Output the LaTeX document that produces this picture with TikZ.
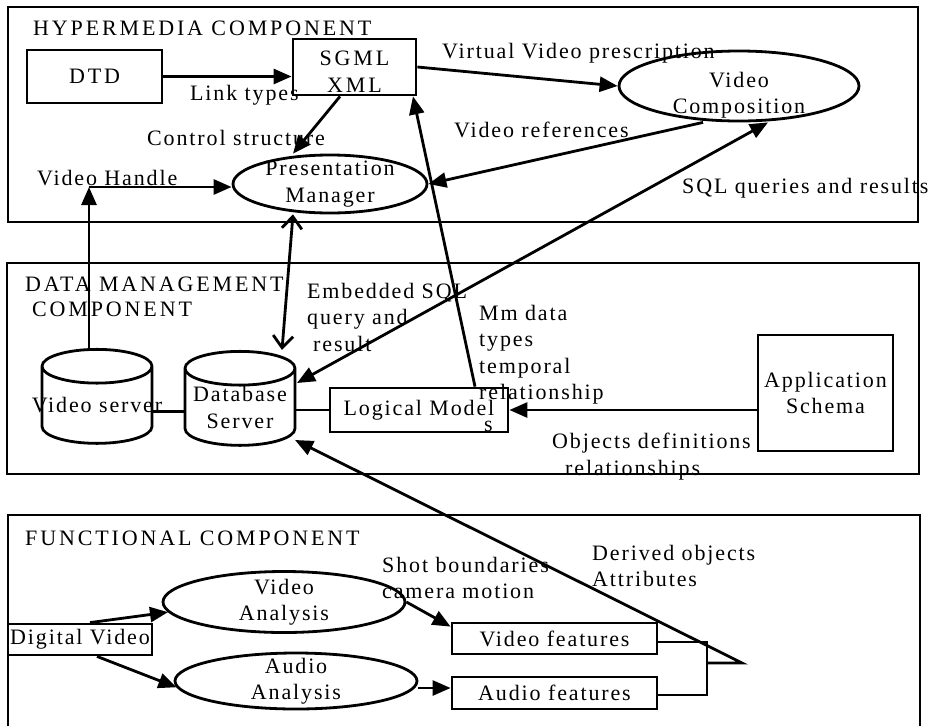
\documentclass[tikz,border=0pt]{standalone}
\usepackage{fontspec}
\setmainfont{Liberation Serif}[LetterSpace=8.5]
\newfontfamily\capsfont{Liberation Serif}[LetterSpace=13]
\usetikzlibrary{shapes.geometric,arrows.meta}
\begin{document}
\begin{tikzpicture}[x=1pt,y=-1pt,
  every node/.style={font=\fontsize{22}{26.5}\selectfont, inner sep=0pt},
  ln/.style={line width=2.8pt},
  arr/.style={ln,-{Triangle[length=18pt,width=15pt]}},
  darr/.style={ln,{Triangle[length=18pt,width=15pt]}-{Triangle[length=18pt,width=15pt]}},
  barb/.style={ln,{Straight Barb[length=12pt,width=20pt]}-{Straight Barb[length=12pt,width=20pt]}},
  comp/.style={line width=2.4pt},
  box/.style={draw, ln, rectangle, align=center},
  oval/.style={draw, ln, ellipse, align=center},
  drum/.style={draw, ln, cylinder, shape border rotate=90, aspect=0.36, align=center},
  capsf/.style={font=\capsfont\fontsize{22}{27}\selectfont},
  lbl/.style={anchor=base west},
  mlbl/.style={anchor=north west, align=left},
  title/.style={anchor=base west, font=\capsfont\fontsize{22}{25}\selectfont},
]
\fill[white] (0,0) rectangle (947,726);
\useasboundingbox (0,0) rectangle (947,726);

% component frames
\draw[comp] (8,7) rectangle (918,222);
\draw[comp] (7,263) rectangle (919,474);
\draw[comp] (8,726) -- (8,515) -- (920,515) -- (920,726);

\node[title] (hyptitle) at (33,35) {HYPERMEDIA COMPONENT};
\node[title, anchor=north west, align=left] (dmtitle) at (25,277) {DATA MANAGEMENT\\\hspace{7pt}COMPONENT};
\node[title] (fctitle) at (25,545) {FUNCTIONAL COMPONENT};

% hypermedia nodes
\node[box, capsf, minimum width=135pt, minimum height=53pt] (dtd) at (94.5,76.5) {DTD};
\node[box, minimum width=123pt, minimum height=56pt,
      label={[capsf, align=center, yshift=-5pt, name=sgmltxt]center:SGML\\XML}] (sgml) at (354.5,67) {};
\node[oval, minimum width=240pt, minimum height=70pt,
      label={[align=center, yshift=-9pt, name=vctxt]center:Video\\Composition}] (vc) at (739,86) {};
\node[oval, inner ysep=-4pt, minimum width=194pt, minimum height=58pt] (pm) at (330,184) {Presentation\\Manager};

% data management nodes
\node[drum, minimum width=110pt, minimum height=75pt, label={[name=vslbl]center:Video server}] (vs) at (97,405.5) {\phantom{Database}\\\phantom{Server}};
\node[drum, minimum width=110pt, minimum height=71pt] (db) at (240,407.5) {Database\\Server};
\node[box, minimum width=178pt, minimum height=44pt] (lm) at (419,410) {Logical Model};
\node[lbl] (lms) at (484,431) {s};
\node[box, minimum width=135pt, minimum height=116pt] (app) at (825.5,393) {Application\\Schema};

% functional nodes
\node[box, minimum width=144pt, minimum height=31pt] (dv) at (80,639.5) {Digital Video};
\node[oval, inner ysep=-3pt, minimum width=242pt, minimum height=61pt] (va) at (284,602) {Video\\Analysis};
\node[oval, inner ysep=-5pt, minimum width=242pt, minimum height=56pt] (aa) at (296,681) {Audio\\Analysis};
\node[box, minimum width=205pt, minimum height=31pt] (vf) at (554.5,638.5) {Video features};
\node[box, minimum width=205pt, minimum height=32pt] (af) at (554.5,693) {Audio features};

% labels
\node[lbl] (lt) at (190,100) {Link types};
\node[lbl] (cs) at (147,145) {Control structure};
\node[lbl] (vhl) at (37,185) {Video Handle};
\node[lbl] (vvp) at (442,58) {Virtual Video prescription};
\node[lbl] (vr) at (454,137) {Video references};
\node[lbl] (sql) at (682,193) {SQL queries and results};
\node[mlbl] (esql) at (307,283) {Embedded SQL\\query and\\\hspace{6pt}result};
\node[mlbl] (mm) at (479,305) {Mm data\\types\\temporal\\relationship};
\node[mlbl] (od) at (552,433) {Objects definitions\\\hspace{13pt}relationships};
\node[mlbl] (sb) at (382,557) {Shot boundaries\\camera motion};
\node[mlbl] (dob) at (592,545) {Derived objects\\Attributes};

% connectors
\coordinate (vh) at (89,187);
\draw[arr] (vs.north -| vh) -- (vh);
\draw[arr] (vh) -- (vh -| pm.west);
\draw[arr] (dtd.east) -- (dtd.east -| sgml.west);
\draw[arr] (sgml.east) -- (vc.west);
\draw[arr] ([xshift=-14.5pt]sgml.south) -- ([xshift=-37pt]pm.north);
\draw[arr] ([xshift=-36pt]vc.south) -- (pm.east);
\draw[arr] ([xshift=56pt]lm.north) -- ([xshift=58.5pt]sgml.south);
\draw[barb] ([xshift=-37pt]pm.south) -- ([xshift=42pt]db.north);
\draw[darr] ([xshift=29pt]vc.south) -- ([shift={(57,-24.5)}]db.center);
\draw[ln] ([yshift=-6pt]vs.east) -- ([yshift=-6pt]vs.east -| db.west);
\draw[ln] (lm.west -| db.east) -- (lm.west);
\draw[arr] (app.west |- lm.east) -- (lm.east);

\draw[arr] ([xshift=10pt]dv.north) -- (va.185);
\draw[arr] ([xshift=17pt]dv.south) -- (aa.183);
\draw[arr] (va.east) -- ([yshift=-5pt]vf.north west);
\draw[arr] ([yshift=-7pt]aa.east) -- ([yshift=-7pt]aa.east -| af.west);
\coordinate (br) at (707,663);
\coordinate (tip) at (742,663);
\draw[ln] ([yshift=-3.5pt]vf.east) -- ([yshift=-3.5pt]vf.east -| br) -- ([yshift=-2pt]af.east -| br) -- ([yshift=-2pt]af.east);
\draw[arr] (br) -- (tip) -- ([shift={(55,32.5)}]db.center);
\end{tikzpicture}
\end{document}
